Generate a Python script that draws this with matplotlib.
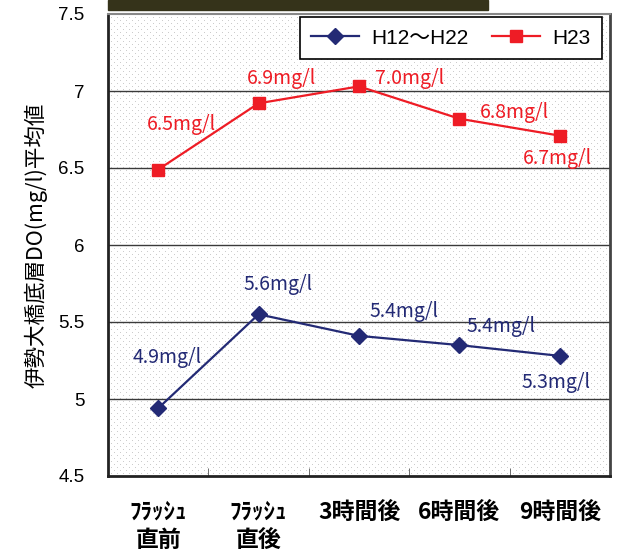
import matplotlib
matplotlib.use("Agg")
import matplotlib.pyplot as plt
import numpy as np
from matplotlib.patches import Rectangle

plt.rcParams['font.family'] = ['Liberation Sans', 'Noto Sans CJK JP']

categories = ["ﾌﾗｯｼｭ\n直前", "ﾌﾗｯｼｭ\n直後", "3時間後", "6時間後", "9時間後"]
h12_h22 = [4.94, 5.55, 5.41, 5.35, 5.28]
h23 = [6.49, 6.92, 7.03, 6.82, 6.71]
h12_labels = ["4.9mg/l", "5.6mg/l", "5.4mg/l", "5.4mg/l", "5.3mg/l"]
h23_labels = ["6.5mg/l", "6.9mg/l", "7.0mg/l", "6.8mg/l", "6.7mg/l"]

# label offsets in pixels from each point
h12_off = [(9, 51), (19, 30), (45, 24), (42, 19), (-4, -27)]
h23_off = [(23, 45), (23, 25), (51, 8), (55, 6), (-2, -23)]

navy = "#232a75"
red = "#ee1c25"
jp = 'Noto Sans CJK JP'

fig = plt.figure(figsize=(6.21, 5.52), dpi=100)
W, H = 621, 552
ax = fig.add_axes([108 / W, 1 - 476 / H, 502 / W, 462 / H])

# dotted background
ph, pw = 462, 502
bg = np.ones((ph, pw, 3))
yy, xx = np.mgrid[0:ph, 0:pw]
dots = ((yy % 6 == 0) & (xx % 6 == 0)) | ((yy % 6 == 3) & (xx % 6 == 3))
bg[dots] = 0.8
ax.imshow(bg, extent=(0, 1, 0, 1), transform=ax.transAxes, aspect='auto',
          interpolation='nearest', zorder=0)

x = np.arange(len(categories))
ax.set_xlim(-0.5, 4.5)
ax.set_ylim(4.5, 7.5)
ax.set_yticks([4.5, 5, 5.5, 6, 6.5, 7, 7.5])
ax.set_yticklabels(["4.5", "5", "5.5", "6", "6.5", "7", "7.5"], fontsize=13.5)
for yv in [5, 5.5, 6, 6.5, 7]:
    ax.axhline(yv, color="#3a3a3a", lw=1, zorder=1)

ax.plot(x, h12_h22, color=navy, lw=1.6, marker='D', ms=8, label="H12～H22", zorder=3)
ax.plot(x, h23, color=red, lw=1.6, marker='s', ms=8, label="H23", zorder=3)

for xi, yi, t, (dx, dy) in zip(x, h12_h22, h12_labels, h12_off):
    ax.annotate(t, (xi, yi), xytext=(dx * 0.72, dy * 0.72), textcoords='offset points',
                ha='center', va='center', color=navy, fontsize=14, family=jp, zorder=4)
for xi, yi, t, (dx, dy) in zip(x, h23, h23_labels, h23_off):
    ax.annotate(t, (xi, yi), xytext=(dx * 0.72, dy * 0.72), textcoords='offset points',
                ha='center', va='center', color=red, fontsize=14, family=jp, zorder=4)

ax.set_xticks(x)
ax.set_xticklabels(categories, fontsize=16.5, fontweight='bold', family=jp,
                   linespacing=1.25)
ax.set_xticks([0.5, 1.5, 2.5, 3.5], minor=True)
ax.tick_params(axis='x', which='major', length=0, pad=18)
ax.tick_params(axis='x', which='minor', direction='in', length=6, color="#555555")
ax.tick_params(axis='y', direction='in', length=0, pad=17)

ax.set_ylabel("伊勢大橋底層DO(mg/l)平均値", fontsize=15.5, family=jp)
ax.yaxis.set_label_coords(-0.12, 0.5)

for s in ['left', 'bottom']:
    ax.spines[s].set_linewidth(2)
    ax.spines[s].set_color("#222222")
ax.spines['right'].set_linewidth(2)
ax.spines['right'].set_color("#444444")
ax.spines['top'].set_linewidth(1.5)
ax.spines['top'].set_color("#888888")

leg = ax.legend(loc='upper right', bbox_to_anchor=(0.984, 0.993), ncol=2, fontsize=15,
                frameon=True, fancybox=False, edgecolor='black', framealpha=1,
                handlelength=2.3, columnspacing=1.1, borderpad=0.55, borderaxespad=0,
                handletextpad=0.6)
leg.get_frame().set_linewidth(1.2)

# dark bar across the top
fig.patches.append(Rectangle((108 / W, 1 - 10 / H), 380 / W, 10 / H,
                             transform=fig.transFigure, color="#35331a", zorder=5))

fig.savefig("out.png", dpi=100)
